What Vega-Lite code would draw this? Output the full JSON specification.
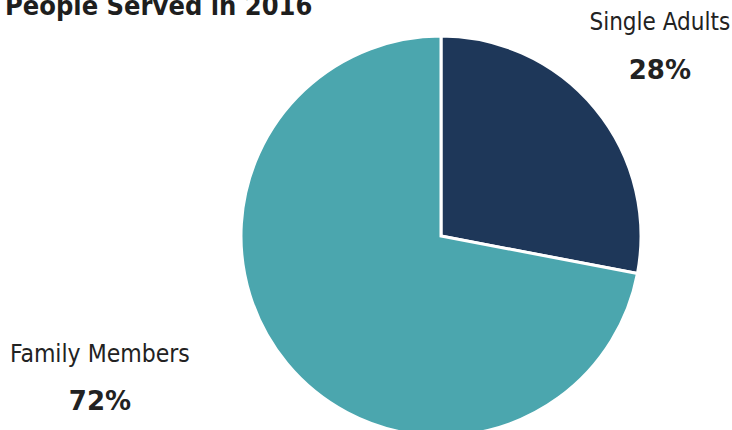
{
  "$schema": "https://vega.github.io/schema/vega-lite/v6.json",
  "autosize": "none",
  "width": 582,
  "height": 388,
  "padding": {"left": 150, "top": 42, "right": 0, "bottom": 0},
  "background": "white",
  "config": {"view": {"stroke": null}},
  "title": {
    "text": "People Served in 2016",
    "anchor": "start",
    "frame": "group",
    "dx": -145,
    "offset": -31,
    "baseline": "alphabetic",
    "font": "DejaVu Sans Condensed, sans-serif",
    "fontSize": 27,
    "fontWeight": "bold",
    "color": "#1e1e1e"
  },
  "data": {
    "values": [
      {"category": "Single Adults", "value": 28, "label": "28%"},
      {"category": "Family Members", "value": 72, "label": "72%"}
    ]
  },
  "encoding": {
    "theta": {"field": "value", "type": "quantitative", "stack": true},
    "order": {"field": "category", "sort": "descending"}
  },
  "layer": [
    {
      "mark": {"type": "arc", "outerRadius": 200, "stroke": "white", "strokeWidth": 3},
      "encoding": {
        "color": {
          "field": "category",
          "type": "nominal",
          "scale": {"domain": ["Single Adults", "Family Members"], "range": ["#1e3759", "#4ba6ae"]},
          "legend": null
        }
      }
    },
    {
      "mark": {"type": "text", "radius": 284, "dy": -32, "baseline": "middle", "font": "DejaVu Sans Condensed, sans-serif", "fontSize": 24, "color": "#222"},
      "encoding": {
        "text": {"condition": {"test": "datum.category === 'Single Adults'", "field": "category"}, "value": ""}
      }
    },
    {
      "mark": {"type": "text", "radius": 284, "dy": 16, "baseline": "middle", "font": "DejaVu Sans", "fontWeight": "bold", "fontSize": 26, "color": "#222"},
      "encoding": {
        "text": {"condition": {"test": "datum.category === 'Single Adults'", "field": "label"}, "value": ""}
      }
    },
    {
      "mark": {"type": "text", "radius": 200, "dx": -187, "dy": -8, "baseline": "middle", "font": "DejaVu Sans Condensed, sans-serif", "fontSize": 24.5, "color": "#222"},
      "encoding": {
        "text": {"condition": {"test": "datum.category === 'Family Members'", "field": "category"}, "value": ""}
      }
    },
    {
      "mark": {"type": "text", "radius": 200, "dx": -187, "dy": 39, "baseline": "middle", "font": "DejaVu Sans", "fontWeight": "bold", "fontSize": 26, "color": "#222"},
      "encoding": {
        "text": {"condition": {"test": "datum.category === 'Family Members'", "field": "label"}, "value": ""}
      }
    }
  ]
}
